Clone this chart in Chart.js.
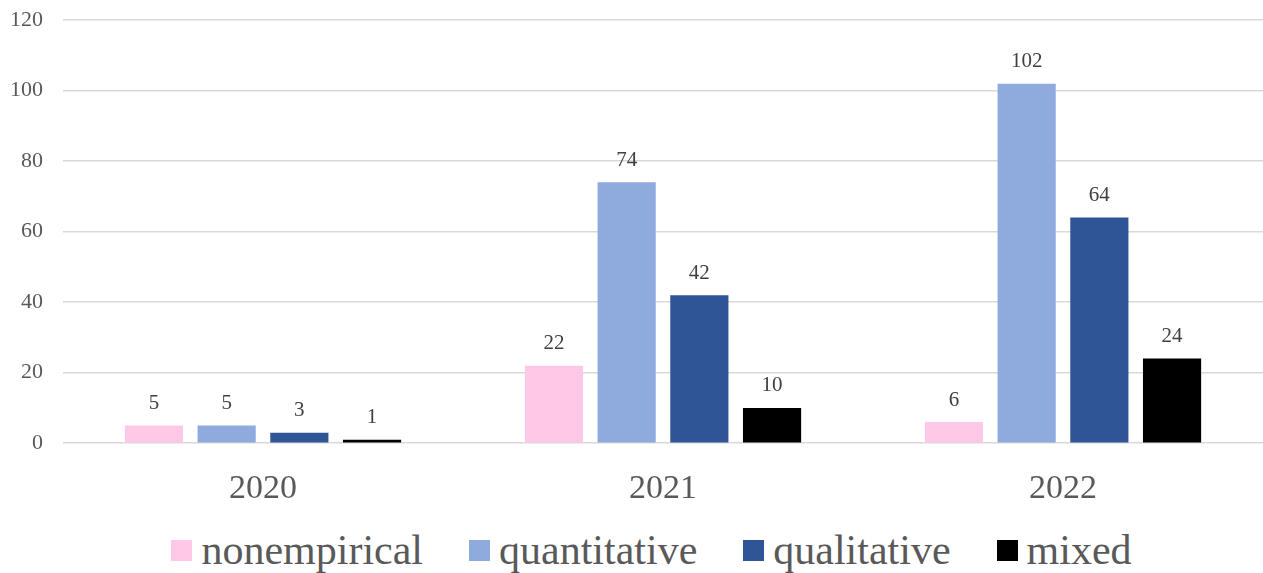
<!DOCTYPE html>
<html>
<head>
<meta charset="utf-8">
<title>Papers by year</title>
<script src="https://cdn.jsdelivr.net/npm/chart.js@4"></script>
<style>
  html, body { margin: 0; padding: 0; background: #fff; }
  body { width: 1263px; height: 573px; overflow: hidden; font-family: "Liberation Serif", "Times New Roman", serif; }
  #wrap { position: relative; top: -13px; width: 1263px; height: 523px; }
  #legend { display: flex; justify-content: center; align-items: center; height: 58px; margin-top: -2px; padding-left: 40px; color: #595959; font-size: 42px; }
  #legend .item { display: flex; align-items: center; margin: 0 23px; }
  #legend .box { width: 21px; height: 21px; margin-right: 9px; }
</style>
</head>
<body>
<div id="wrap"><canvas id="myChart"></canvas></div>
<div id="legend"></div>
<script>
// categories + series
const years = ['2020', '2021', '2022'];
const seriesNames = ['nonempirical', 'quantitative', 'qualitative', 'mixed'];
const nonempirical = [5, 22, 6];
const quantitative = [5, 74, 102];
const qualitative = [3, 42, 64];
const mixed = [1, 10, 24];
const colors = ['#FFC8E6', '#8FAADC', '#2F5597', '#000000'];

const allSeries = [nonempirical, quantitative, qualitative, mixed];

// values above bars
const barLabels = {
    id: 'barLabels',
    afterDatasetsDraw(chart) {
        const ctx = chart.ctx;
        ctx.save();
        ctx.font = '21px "Liberation Serif", serif';
        ctx.fillStyle = '#404040';
        ctx.textAlign = 'center';
        ctx.textBaseline = 'middle';
        chart.data.datasets.forEach((ds, i) => {
            chart.getDatasetMeta(i).data.forEach((bar, j) => {
                ctx.fillText(ds.data[j], bar.x, bar.y - 22);
            });
        });
        ctx.restore();
    }
};

const customer = document.getElementById('myChart');

new Chart(customer, {
    type: 'bar',
    data: {
        labels: years,
        datasets: seriesNames.map((name, i) => ({
            label: name,
            data: allSeries[i],
            backgroundColor: colors[i],
            categoryPercentage: 0.727,
            barPercentage: 0.8
        }))
    },
    options: {
        responsive: true,
        maintainAspectRatio: false,
        animation: false,
        layout: { padding: { top: 0, right: 0, left: 0, bottom: -24 } },
        plugins: {
            legend: { display: false },
            tooltip: { enabled: false }
        },
        scales: {
            x: {
                grid: { display: false, drawTicks: false },
                border: { display: false },
                ticks: {
                    color: '#595959',
                    padding: 25,
                    font: { family: '"Liberation Serif", serif', size: 34 }
                }
            },
            y: {
                min: 0,
                max: 120,
                beginAtZero: true,
                afterFit(scale) { scale.width = 63; },
                grid: { color: '#D9D9D9', lineWidth: 1.5, drawTicks: false },
                border: { display: false },
                ticks: {
                    stepSize: 20,
                    color: '#595959',
                    padding: 20,
                    font: { family: '"Liberation Serif", serif', size: 22 }
                }
            }
        }
    },
    plugins: [barLabels]
});

// legend below the chart
const legend = document.getElementById('legend');
seriesNames.forEach((name, i) => {
    const item = document.createElement('div');
    item.className = 'item';
    item.innerHTML = `<span class="box" style="background:${colors[i]}"></span><span>${name}</span>`;
    legend.appendChild(item);
});
</script>
</body>
</html>
